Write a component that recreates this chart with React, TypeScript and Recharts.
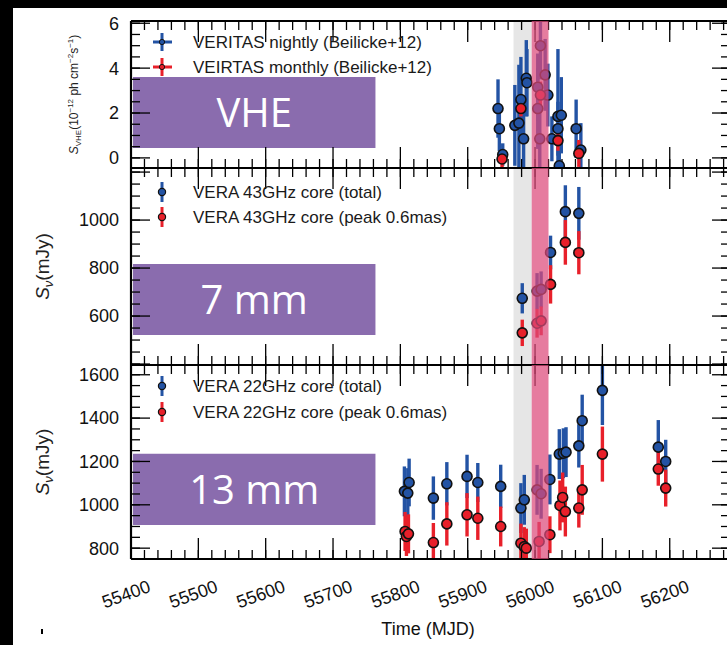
import React from 'react';
import { ComposedChart, Scatter, XAxis, YAxis, ErrorBar, ReferenceArea } from 'recharts';

// VHE flux (1e-12 ph cm^-2 s^-1), VERITAS
const vheNightlyMjd = [55945, 55947, 55952, 55970, 55976, 55979, 55983, 55987, 55988, 56004, 56004, 56007, 56008, 56015, 56019, 56025, 56034, 56034, 56036, 56039, 56061, 56068];
const vheNightlyFlux = [2.2, 1.3, 0.15, 1.45, 1.55, 2.6, 0.85, 3.55, 3.35, 2.2, 3.15, 0.85, 5.0, 3.7, 2.8, 0.85, 1.85, 1.3, -0.35, 1.9, 1.3, 0.35];
const vheNightlyErr = [1.3, 1.0, 0.5, 1.8, 2.6, 1.9, 1.5, 1.7, 1.5, 1.8, 1.5, 1.8, 1.5, 1.6, 1.4, 1.0, 3.0, 1.2, 0.8, 1.7, 1.3, 1.2];

const vheMonthlyMjd = [55951, 55979, 56008, 56034, 56065];
const vheMonthlyFlux = [-0.05, 2.2, 2.8, 0.77, 0.2];
const vheMonthlyErr = [0.4, 0.35, 0.6, 0.45, 0.6];

// VERA 43GHz core (mJy)
const q43Mjd = [55981, 56003, 56009, 56023, 56045, 56065];
const q43Total = [674, 704, 711, 865, 1035, 1028];
const q43TotalErr = [63, 75, 75, 70, 110, 110];
const q43Peak = [530, 570, 580, 732, 907, 864];
const q43PeakErr = [55, 60, 60, 80, 93, 90];

// VERA 22GHz core (mJy)
const k22TotalMjd = [55806, 55811, 55813, 55849, 55869, 55899, 55915, 55949, 55979, 55984, 56003, 56009, 56022, 56036, 56042, 56046, 56065, 56070, 56100, 56183, 56194];
const k22Total = [1062, 1054, 1103, 1031, 1097, 1131, 1103, 1085, 985, 1023, 1069, 1051, 1117, 1234, 1238, 1243, 1272, 1388, 1528, 1266, 1200];
const k22TotalErr = [115, 115, 110, 100, 100, 100, 90, 100, 115, 115, 115, 115, 115, 115, 115, 115, 100, 120, 160, 125, 100];

const k22PeakMjd = [55807, 55809, 55812, 55849, 55869, 55899, 55915, 55949, 55979, 55984, 55987, 56006, 56022, 56037, 56041, 56045, 56065, 56070, 56100, 56183, 56194];
const k22Peak = [877, 854, 866, 826, 912, 954, 938, 900, 823, 807, 800, 831, 862, 997, 1034, 969, 985, 1069, 1234, 1165, 1077];
const k22PeakErr = [90, 90, 90, 90, 100, 100, 100, 92, 90, 90, 90, 90, 85, 115, 115, 115, 90, 115, 127, 77, 85];

const quietBand = [55968, 55995];
const flareBand = [55995, 56020];

const xMajor = [55400, 55500, 55600, 55700, 55800, 55900, 56000, 56100, 56200];
const xLabels = [55400, 55500, 55600, 55700, 55800, 55900, 56000, 56100, 56200];

const BLUE = '#2353a4';
const RED = '#e8202a';
const FONT = "'Liberation Sans', Arial, sans-serif";
const X_DOMAIN: [number, number] = [55400, 56288];

const steps = (a: number, b: number, s: number) => {
  const out: number[] = [];
  for (let v = a; v <= b + 1e-9; v += s) out.push(Math.round(v * 100) / 100);
  return out;
};
const xMinor = steps(55400, 56280, 20);

const zip = (mjd: number[], v: number[], err: number[]) => mjd.map((m, i) => ({ mjd: m, v: v[i], err: err[i] }));

const NoTick = () => <g />;

const RotTick = ({ x, y, payload }: any) => (
  <g transform={`translate(${x - 5},${y + 35}) rotate(-20)`}>
    <text textAnchor="middle" dy="0.35em" fontSize={18} fontFamily={FONT} fill="#111">
      {payload.value}
    </text>
  </g>
);

const dot = (fill: string) => (p: any) => (
  <circle cx={p.cx} cy={p.cy} r={5} fill={fill} stroke="#111" strokeWidth={1.6} />
);

const vheTitle = (p: any) => {
  const vb = p.viewBox;
  return (
    <text transform={`translate(${vb.x + 17},${vb.y + vb.height / 2}) rotate(-90)`} textAnchor="middle" fontSize={12} fontFamily={FONT} fill="#222">
      <tspan fontStyle="italic">S</tspan>
      <tspan fontSize={8} dy={3}>VHE</tspan>
      <tspan dy={-3}>(10</tspan>
      <tspan fontSize={8} dy={-5}>−12</tspan>
      <tspan dy={5}> ph cm</tspan>
      <tspan fontSize={8} dy={-5}>−2</tspan>
      <tspan dy={5}>s</tspan>
      <tspan fontSize={8} dy={-5}>−1</tspan>
      <tspan dy={5}>)</tspan>
    </text>
  );
};

const fluxTitle = (p: any) => {
  const vb = p.viewBox;
  return (
    <text transform={`translate(${vb.x - 12},${vb.y + vb.height / 2}) rotate(-90)`} textAnchor="middle" fontSize={19} fontFamily={FONT} fill="#222">
      <tspan fontStyle="italic">S</tspan>
      <tspan fontSize={13} dy={4} fontStyle="italic">ν</tspan>
      <tspan dy={-4}>(mJy)</tspan>
    </text>
  );
};

type Series = { data: { mjd: number; v: number; err: number }[]; color: string };

type PanelProps = {
  top: number;
  height: number;
  mTop: number;
  mBottom: number;
  yDomain: [number, number];
  yLabels: number[];
  yMajor: number[];
  yMinor: number[];
  series: Series[];
  box: { y1: number; y2: number; text: string };
  title: (p: any) => React.ReactNode;
  bottomLabels?: boolean;
};

function Panel({ top, height, mTop, mBottom, yDomain, yLabels, yMajor, yMinor, series, box, title, bottomLabels }: PanelProps) {
  const frame = { stroke: '#000', strokeWidth: 2.2 };
  const tl = { stroke: '#000', strokeWidth: 1.3 };
  const [lo, hi] = yDomain;
  // error bars stop at the frame, like the clipped bars in the original
  const errKey = (d: any) => [Math.max(0, Math.min(d.err, d.v - lo)), Math.max(0, Math.min(d.err, hi - d.v))];
  return (
    <div style={{ position: 'absolute', left: 0, top }}>
      <ComposedChart width={760} height={height} margin={{ top: mTop, right: 31, bottom: mBottom, left: 61 }}>
        <XAxis xAxisId="x" dataKey="mjd" type="number" domain={X_DOMAIN} allowDataOverflow orientation="bottom" mirror height={1} ticks={xMajor} interval={0} tickSize={21} tick={NoTick} axisLine={frame} tickLine={tl} />
        <XAxis xAxisId="xm" dataKey="mjd" type="number" domain={X_DOMAIN} allowDataOverflow orientation="bottom" mirror height={1} ticks={xMinor} interval={0} tickSize={8} tick={NoTick} axisLine={false} tickLine={tl} />
        <XAxis xAxisId="xt" dataKey="mjd" type="number" domain={X_DOMAIN} allowDataOverflow orientation="top" mirror height={1} ticks={xMajor} interval={0} tickSize={21} tick={NoTick} axisLine={frame} tickLine={tl} />
        <XAxis xAxisId="xtm" dataKey="mjd" type="number" domain={X_DOMAIN} allowDataOverflow orientation="top" mirror height={1} ticks={xMinor} interval={0} tickSize={8} tick={NoTick} axisLine={false} tickLine={tl} />
        {bottomLabels && (
          <XAxis xAxisId="xl" dataKey="mjd" type="number" domain={X_DOMAIN} allowDataOverflow orientation="bottom" height={80} ticks={xLabels} interval={0} tickSize={0} tickMargin={0} tick={RotTick} axisLine={false} tickLine={false}
            label={{ value: 'Time (MJD)', position: 'insideBottom', offset: 4, dx: -2, fontSize: 18, fontFamily: FONT, fill: '#111' }} />
        )}
        <YAxis yAxisId="yl" dataKey="v" type="number" domain={yDomain} allowDataOverflow orientation="left" width={70} ticks={yLabels} interval={0} tickSize={0} tickMargin={12} axisLine={false} tickLine={false}
          tick={{ fontSize: 18, fontFamily: FONT, fill: '#111' }} label={title} />
        <YAxis yAxisId="y" dataKey="v" type="number" domain={yDomain} allowDataOverflow orientation="left" mirror width={1} ticks={yMajor} interval={0} tickSize={19} tick={NoTick} axisLine={frame} tickLine={tl} />
        <YAxis yAxisId="ym" dataKey="v" type="number" domain={yDomain} allowDataOverflow orientation="left" mirror width={1} ticks={yMinor} interval={0} tickSize={8} tick={NoTick} axisLine={false} tickLine={tl} />
        <YAxis yAxisId="yr" dataKey="v" type="number" domain={yDomain} allowDataOverflow orientation="right" mirror width={1} ticks={yMajor} interval={0} tickSize={17} tick={NoTick} axisLine={false} tickLine={tl} />
        <YAxis yAxisId="yrm" dataKey="v" type="number" domain={yDomain} allowDataOverflow orientation="right" mirror width={1} ticks={yMinor} interval={0} tickSize={7} tick={NoTick} axisLine={false} tickLine={tl} />

        <ReferenceArea xAxisId="x" yAxisId="yl" x1={quietBand[0]} x2={quietBand[1]} fill="#e6e6e6" fillOpacity={1} stroke="none" />
        <ReferenceArea xAxisId="x" yAxisId="yl" x1={55403} x2={55763} y1={box.y1} y2={box.y2} fill="#8a6cae" fillOpacity={1} stroke="none"
          label={{ value: box.text, position: 'center', fill: '#fff', fontSize: 40, fontFamily: "'Open Sans', sans-serif" }} />

        {series.map((s, i) => (
          <Scatter key={i} xAxisId="x" yAxisId="yl" data={s.data} dataKey="v" isAnimationActive={false} shape={dot(s.color)}>
            <ErrorBar dataKey={errKey} direction="y" width={0} strokeWidth={3.4} stroke={s.color} />
          </Scatter>
        ))}

        <ReferenceArea xAxisId="x" yAxisId="yl" x1={flareBand[0]} x2={flareBand[1]} fill="#dc4a7a" fillOpacity={0.72} stroke="none" zIndex={1500} />
      </ComposedChart>
    </div>
  );
}

const legendFont = { fontSize: 17, fontFamily: FONT, fill: '#1a1a1a' };

const CrossMark = ({ y, color }: { y: number; color: string }) => (
  <g>
    <line x1={153} x2={172} y1={y} y2={y} stroke={color} strokeWidth={3} />
    <line x1={162} x2={162} y1={y - 9} y2={y + 9} stroke={color} strokeWidth={3} />
    <circle cx={162} cy={y} r={2.6} fill={color} stroke="#111" strokeWidth={1} />
  </g>
);

const BarMark = ({ y, color }: { y: number; color: string }) => (
  <g>
    <line x1={162} x2={162} y1={y - 10} y2={y + 10} stroke={color} strokeWidth={3} />
    <circle cx={162} cy={y} r={3.6} fill={color} stroke="#111" strokeWidth={1.2} />
  </g>
);

export default function App() {
  return (
    <div style={{ position: 'fixed', left: 0, top: 0, width: 727, height: 645, overflow: 'hidden', background: '#fff' }}>
      <Panel
        top={0} height={175} mTop={21} mBottom={7}
        yDomain={[-0.45, 6.1]} yLabels={[0, 2, 4, 6]} yMajor={[0, 2, 4, 6]} yMinor={steps(0, 6, 0.5)}
        series={[{ data: zip(vheNightlyMjd, vheNightlyFlux, vheNightlyErr), color: BLUE }, { data: zip(vheMonthlyMjd, vheMonthlyFlux, vheMonthlyErr), color: RED }]}
        box={{ y1: 0.44, y2: 3.6, text: 'VHE' }} title={vheTitle}
      />
      <Panel
        top={160} height={215} mTop={8} mBottom={10}
        yDomain={[396, 1217]} yLabels={[600, 800, 1000]} yMajor={[400, 600, 800, 1000, 1200]} yMinor={steps(400, 1200, 50)}
        series={[{ data: zip(q43Mjd, q43Total, q43TotalErr), color: BLUE }, { data: zip(q43Mjd, q43Peak, q43PeakErr), color: RED }]}
        box={{ y1: 521, y2: 817, text: '7 mm' }} title={fluxTitle}
      />
      <Panel
        top={357} height={282} mTop={8} mBottom={0}
        yDomain={[750, 1645]} yLabels={[800, 1000, 1200, 1400, 1600]} yMajor={[800, 1000, 1200, 1400, 1600]} yMinor={steps(800, 1600, 50)}
        series={[{ data: zip(k22TotalMjd, k22Total, k22TotalErr), color: BLUE }, { data: zip(k22PeakMjd, k22Peak, k22PeakErr), color: RED }]}
        box={{ y1: 907, y2: 1235, text: '13 mm' }} title={fluxTitle} bottomLabels
      />

      <svg width={727} height={645} style={{ position: 'absolute', left: 0, top: 0, pointerEvents: 'none' }}>
        <CrossMark y={42} color={BLUE} />
        <text x={193} y={42} dy="0.35em" {...legendFont}>VERITAS nightly (Beilicke+12)</text>
        <CrossMark y={67} color={RED} />
        <text x={193} y={67} dy="0.35em" {...legendFont}>VEIRTAS monthly (Beilicke+12)</text>

        <BarMark y={192} color={BLUE} />
        <text x={193} y={192} dy="0.35em" {...legendFont}>VERA 43GHz core (total)</text>
        <BarMark y={217} color={RED} />
        <text x={193} y={217} dy="0.35em" {...legendFont}>VERA 43GHz core (peak 0.6mas)</text>

        <BarMark y={386} color={BLUE} />
        <text x={193} y={386} dy="0.35em" {...legendFont}>VERA 22GHz core (total)</text>
        <BarMark y={412} color={RED} />
        <text x={193} y={412} dy="0.35em" {...legendFont}>VERA 22GHz core (peak 0.6mas)</text>

        <rect x={0} y={0} width={727} height={8} fill="#000" />
        <rect x={0} y={0} width={13} height={645} fill="#000" />
        <rect x={41} y={629} width={2} height={5} fill="#000" />
      </svg>
    </div>
  );
}
